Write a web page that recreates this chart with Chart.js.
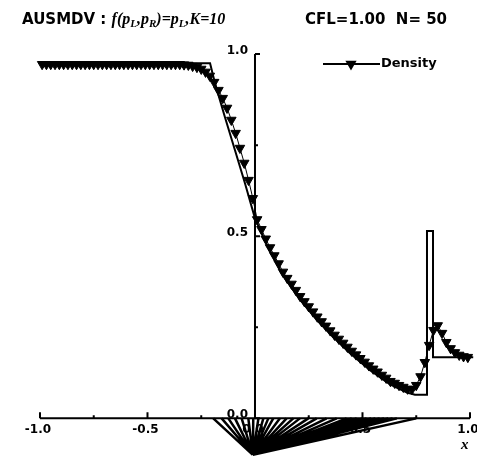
<!DOCTYPE html>
<html>
<head>
<meta charset="utf-8">
<script src="https://cdn.jsdelivr.net/npm/chart.js@4.4.0/dist/chart.umd.min.js"></script>
<style>
body { margin: 0; background: #fff; }
#wrap { position: relative; width: 477px; height: 456px; overflow: hidden; }
#c { position: absolute; left: 0; top: 0; }
.hd { position: absolute; top: 10px; line-height: 15px; font: bold 15px "DejaVu Sans", sans-serif; color: #000; white-space: pre; }
.it { font: bold italic 16px "Liberation Serif", serif; }
.it sub { font-size: 11px; line-height: 0; vertical-align: -3px; }
#xl { position: absolute; left: 461px; top: 436px; font: bold italic 15px "Liberation Serif", serif; }
</style>
</head>
<body>
<div id="wrap">
  <canvas id="c" width="477" height="456"></canvas>
  <div class="hd" style="left:22px">AUSMDV : <span class="it">f(p<sub>L</sub>,p<sub>R</sub>)=p<sub>L</sub>,K=10</span></div>
  <div class="hd" style="left:305px">CFL=1.00  N= 50</div>
  <div id="xl">x</div>
</div>
<script>
// numerical solution (cell centres)
var cellX = [-0.99, -0.97, -0.95, -0.93, -0.91, -0.89, -0.87, -0.85, -0.83, -0.81,
             -0.79, -0.77, -0.75, -0.73, -0.71, -0.69, -0.67, -0.65, -0.63, -0.61,
             -0.59, -0.57, -0.55, -0.53, -0.51, -0.49, -0.47, -0.45, -0.43, -0.41,
             -0.39, -0.37, -0.35, -0.33, -0.31, -0.29, -0.27, -0.25, -0.23, -0.21,
             -0.19, -0.17, -0.15, -0.13, -0.11, -0.09, -0.07, -0.05, -0.03, -0.01,
             0.01, 0.03, 0.05, 0.07, 0.09, 0.11, 0.13, 0.15, 0.17, 0.19,
             0.21, 0.23, 0.25, 0.27, 0.29, 0.31, 0.33, 0.35, 0.37, 0.39,
             0.41, 0.43, 0.45, 0.47, 0.49, 0.51, 0.53, 0.55, 0.57, 0.59,
             0.61, 0.63, 0.65, 0.67, 0.69, 0.71, 0.73, 0.75, 0.77, 0.79,
             0.81, 0.83, 0.85, 0.87, 0.89, 0.91, 0.93, 0.95, 0.97, 0.99];
var density = [0.972, 0.972, 0.972, 0.972, 0.972, 0.972, 0.972, 0.972, 0.972, 0.972,
               0.972, 0.972, 0.972, 0.972, 0.972, 0.972, 0.972, 0.972, 0.972, 0.972,
               0.972, 0.972, 0.972, 0.972, 0.972, 0.972, 0.972, 0.972, 0.972, 0.972,
               0.972, 0.972, 0.972, 0.971, 0.970, 0.967, 0.964, 0.959, 0.951, 0.940,
               0.923, 0.901, 0.879, 0.852, 0.819, 0.783, 0.742, 0.701, 0.654, 0.604,
               0.546, 0.519, 0.493, 0.469, 0.447, 0.425, 0.402, 0.385, 0.369, 0.352,
               0.335, 0.321, 0.307, 0.293, 0.279, 0.266, 0.254, 0.241, 0.229, 0.218,
               0.207, 0.196, 0.185, 0.175, 0.165, 0.155, 0.145, 0.136, 0.128, 0.119,
               0.111, 0.102, 0.097, 0.091, 0.086, 0.081, 0.080, 0.091, 0.115, 0.154,
               0.201, 0.242, 0.255, 0.234, 0.209, 0.192, 0.181, 0.174, 0.170, 0.168];

// exact solution
var exactX = [-1.0, -0.209, -0.186, -0.14, -0.093, -0.047, 0.0, 0.056, 0.13, 0.209, 0.288,
              0.363, 0.442, 0.535, 0.628, 0.707, 0.744, 0.8, 0.8, 0.828, 0.828, 1.015];
var exactRho = [0.975, 0.975, 0.920, 0.827, 0.736, 0.646, 0.549, 0.475, 0.392, 0.326, 0.270,
                0.223, 0.179, 0.132, 0.093, 0.071, 0.065, 0.065, 0.514, 0.514, 0.168, 0.168];

// wave fan drawn below the axis
var fanApex = [-0.01, -0.1];
var fanEnds = [-0.194, -0.155, -0.124, -0.093, -0.062, -0.031, -0.008, 0.016, 0.039, 0.062,
               0.085, 0.116, 0.147, 0.178, 0.209, 0.248, 0.287, 0.333, 0.380, 0.426,
               0.45, 0.473, 0.50, 0.519, 0.54, 0.56, 0.58, 0.60, 0.62, 0.64, 0.66, 0.75];

var xTickVals = [-1.0, -0.5, 0.0, 0.5, 1.0];
var xTickLabels = ['-1.0', '-0.5', '0.0', '0.5', '1.0'];
var xMinorVals = [-0.75, -0.25, 0.25, 0.75];
var yTickVals = [0.0, 0.5, 1.0];
var yTickLabels = ['0.0', '0.5', '1.0'];
var yMinorVals = [0.25, 0.75];

var numPts = cellX.map(function (x, i) { return { x: x, y: density[i] }; });
var exactPts = exactX.map(function (x, i) { return { x: x, y: exactRho[i] }; });
var fanPts = [{ x: fanApex[0], y: fanApex[1] }];
fanEnds.forEach(function (e) {
  fanPts.push({ x: e, y: 0 });
  fanPts.push({ x: fanApex[0], y: fanApex[1] });
});

// axes through the origin, drawn before the data
var axesPlugin = {
  id: 'axes',
  beforeDatasetsDraw: function (chart) {
    var c = chart.ctx, sx = chart.scales.x, sy = chart.scales.y;
    var x0 = sx.getPixelForValue(0), y0 = sy.getPixelForValue(0);
    c.save();
    c.strokeStyle = '#000';
    c.fillStyle = '#000';
    c.lineWidth = 2;
    c.beginPath();
    c.moveTo(sx.getPixelForValue(-1), y0);
    c.lineTo(sx.getPixelForValue(1), y0);
    c.moveTo(x0, y0);
    c.lineTo(x0, sy.getPixelForValue(1));
    c.stroke();
    c.beginPath();
    xTickVals.forEach(function (v) {
      var p = sx.getPixelForValue(v);
      c.moveTo(p, y0); c.lineTo(p, y0 - 6);
    });
    xMinorVals.forEach(function (v) {
      var p = sx.getPixelForValue(v);
      c.moveTo(p, y0); c.lineTo(p, y0 - 3);
    });
    yTickVals.forEach(function (v) {
      var p = sy.getPixelForValue(v);
      c.moveTo(x0, p); c.lineTo(x0 + 5, p);
    });
    yMinorVals.forEach(function (v) {
      var p = sy.getPixelForValue(v);
      c.moveTo(x0, p); c.lineTo(x0 + 3, p);
    });
    c.stroke();
    c.font = 'bold 12px "DejaVu Sans", sans-serif';
    c.textBaseline = 'middle';
    c.textAlign = 'center';
    xTickVals.forEach(function (v, i) {
      c.fillText(xTickLabels[i], sx.getPixelForValue(v) - 2, y0 + 12);
    });
    c.textAlign = 'right';
    yTickVals.forEach(function (v, i) {
      c.fillText(yTickLabels[i], x0 - 7, sy.getPixelForValue(v) - 3);
    });
    c.restore();
  }
};

// legend sample in the upper right
var legendPlugin = {
  id: 'sampleLegend',
  afterDatasetsDraw: function (chart) {
    var c = chart.ctx;
    var ds = chart.data.datasets[1];
    var ly = 64;
    c.save();
    c.strokeStyle = '#000';
    c.fillStyle = '#000';
    c.lineWidth = 2;
    c.beginPath();
    c.moveTo(323, ly); c.lineTo(380, ly);
    c.stroke();
    Chart.helpers.drawPoint(c, { pointStyle: 'triangle', rotation: 180, radius: 4.5, borderWidth: 1 }, 351, ly);
    c.fill();
    c.font = 'bold 13px "DejaVu Sans", sans-serif';
    c.textBaseline = 'middle';
    c.textAlign = 'left';
    c.fillText(ds.label, 381, ly);
    c.restore();
  }
};

var ctx = document.getElementById('c').getContext('2d');
var chart = new Chart(ctx, {
  type: 'scatter',
  data: {
    datasets: [{
      label: 'Exact',
      data: exactPts,
      showLine: true,
      borderColor: '#000',
      borderWidth: 2,
      pointRadius: 0,
      tension: 0,
      order: 2
    },
    {
      label: 'Density',
      data: numPts,
      showLine: true,
      borderColor: '#000',
      backgroundColor: '#000',
      borderWidth: 1,
      pointStyle: 'triangle',
      rotation: 180,
      pointRadius: 5.5,
      pointBorderWidth: 1,
      order: 1
    },
    {
      label: 'fan',
      data: fanPts,
      showLine: true,
      borderColor: '#000',
      borderWidth: 2.5,
      pointRadius: 0,
      tension: 0,
      order: 3
    }]
  },
  options: {
    responsive: false,
    animation: false,
    layout: { padding: 0, autoPadding: false },
    plugins: {
      legend: { display: false },
      title: { display: false },
      tooltip: { enabled: false }
    },
    scales: {
      x: { type: 'linear', min: -1.186, max: 1.0326, display: false },
      y: { type: 'linear', min: -0.1033, max: 1.1484, display: false }
    }
  },
  plugins: [axesPlugin, legendPlugin]
});
</script>
</body>
</html>
